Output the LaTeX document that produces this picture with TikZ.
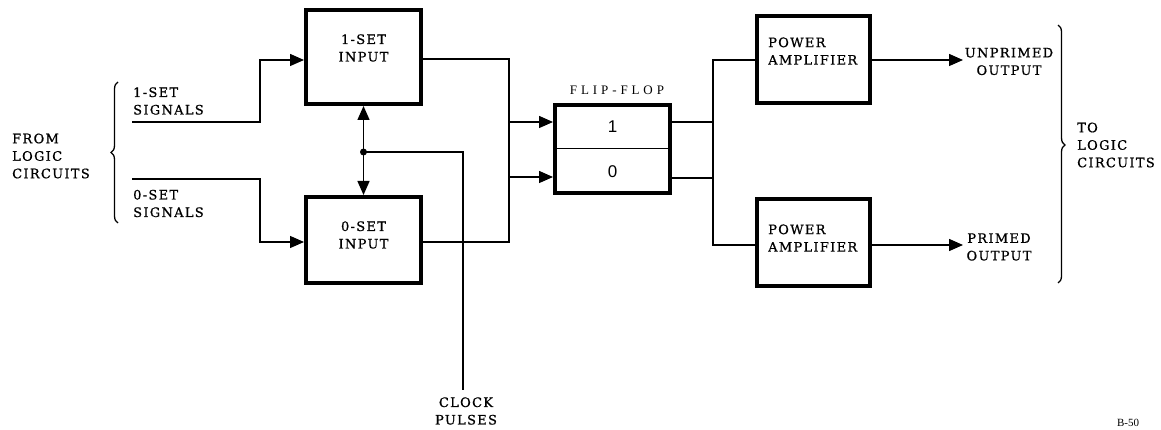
\documentclass[tikz,border=0pt]{standalone}
\usepackage{fontspec}
\setmainfont{DejaVu Serif}
\newfontfamily\lblfont[LetterSpace=10,FakeBold=0.8]{DejaVu Serif}
\newfontfamily\fffont[LetterSpace=30]{Liberation Serif}
\newfontfamily\pgfont{Liberation Serif}
\newfontfamily\numfont{Liberation Sans}
\usetikzlibrary{arrows.meta,decorations.pathreplacing}
\begin{document}
\begin{tikzpicture}[x=1pt,y=-1pt,
  box/.style={draw,line width=4pt,inner sep=0pt},
  wire/.style={line width=1.4pt},
  arr/.style={wire,-{Triangle[length=14pt,width=12pt]}},
  lbl/.style={font=\lblfont\fontsize{13}{17.5}\selectfont,inner sep=0pt},
  num/.style={font=\numfont\fontsize{17}{17}\selectfont,inner sep=0pt},
  brc/.style={line width=1.3pt,decorate,decoration={brace,amplitude=7pt}}]
\useasboundingbox (0,0) rectangle (1161,430);

% boxes
\node[box,minimum width=115pt,minimum height=94pt] (s1) at (363.5,57) {};
\node[box,minimum width=115pt,minimum height=86pt] (s0) at (363.5,240) {};
\node[box,minimum width=115pt,minimum height=88pt] (ff) at (612.5,149) {};
\node[box,minimum width=113pt,minimum height=87pt] (pa1) at (813.5,59.5) {};
\node[box,minimum width=113pt,minimum height=87pt] (pa2) at (813.5,242.5) {};
\draw[line width=1pt] (ff.west) -- (ff.east);

% box labels
\node[lbl,align=center] (s1t) at (363.5,48) {1-SET\\INPUT};
\node[lbl,align=center] (s0t) at (363.5,235) {0-SET\\INPUT};
\node[lbl,align=left,anchor=west] (pa1t) at (768,51) {POWER\\AMPLIFIER};
\node[lbl,align=left,anchor=west] (pa2t) at (768,238) {POWER\\AMPLIFIER};
\node[num] (one) at (612.5,127) {1};
\node[num] (zero) at (612.5,172) {0};
\node[font=\fffont\fontsize{13}{13}\selectfont,inner sep=0pt] (fft) at (617,90) {FLIP-FLOP};

% outer labels
\node[lbl,align=left,anchor=west] (from) at (12,156) {FROM\\LOGIC\\CIRCUITS};
\node[lbl,align=left,anchor=west] (sig1t) at (133,101) {1-SET\\SIGNALS};
\node[lbl,align=left,anchor=west] (sig0t) at (133,203.5) {0-SET\\SIGNALS};
\node[lbl,align=center] (clkt) at (466,411) {CLOCK\\PULSES};
\node[lbl,align=center] (unp) at (1009,61.5) {UNPRIMED\\OUTPUT};
\node[lbl,align=center] (pri) at (999,247) {PRIMED\\OUTPUT};
\node[lbl,align=left,anchor=west] (to) at (1077,145) {TO\\LOGIC\\CIRCUITS};
\node[font=\pgfont\fontsize{11}{12}\selectfont,inner sep=0pt] (bnum) at (1128,423) {B-50};

% braces
\draw[brc] (118,223) -- (118,82);
\draw[brc,decoration={aspect=0.465}] (1058,25) -- (1058,283);

% input connectors
\coordinate (sig1) at (132,122);
\coordinate (sig0) at (132,179);
\coordinate (j1) at (260,60);
\coordinate (j0) at (260,242);
\draw[arr] (sig1) -| (j1) -- (j1 -| s1.west);
\draw[arr] (sig0) -| (j0) -- (j0 -| s0.west);

% clock
\coordinate (dot) at (363.5,152);
\coordinate (clk) at (463,390);
\draw[arr] (dot) -- (s1.south);
\draw[arr] (dot) -- (s0.north);
\draw[wire] (dot) -| (clk);
\fill (dot) circle (3.5);

% to flip-flop
\coordinate (kx) at (509,150);
\draw[arr] ([yshift=-2pt]s1.east) -| (kx) |- ([yshift=27pt]ff.west);
\draw[arr] ([yshift=-2pt]s0.east) -| (kx) |- ([yshift=-28pt]ff.west);

% to power amplifiers
\coordinate (ky) at (713,150);
\draw[wire] ([yshift=27pt]ff.east) -| (ky) |- ([yshift=-0.5pt]pa1.west);
\draw[wire] ([yshift=-29pt]ff.east) -| (ky) |- ([yshift=-2.5pt]pa2.west);

% outputs
\coordinate (o1) at (963,60);
\coordinate (o2) at (963,245);
\draw[arr] ([yshift=-0.5pt]pa1.east) -- (o1);
\draw[arr] ([yshift=-2.5pt]pa2.east) -- (o2);
\end{tikzpicture}
\end{document}
